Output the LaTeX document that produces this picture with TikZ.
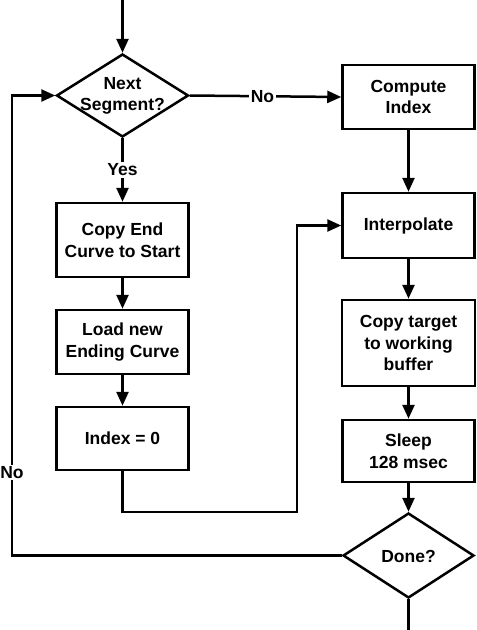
\documentclass[tikz,border=0pt]{standalone}
\usepackage{fontspec}
\setmainfont{Liberation Sans}
\usetikzlibrary{shapes.geometric,arrows.meta}
\begin{document}
\begin{tikzpicture}[x=1pt,y=-1pt,
  line width=2.5pt,
  every node/.style={font=\fontsize{17.5}{21.5}\selectfont\bfseries, align=center},
  box/.style={draw, rectangle, inner sep=0pt},
  dec/.style={draw, diamond, inner sep=0pt},
  txt/.style={inner sep=0pt},
  lbl/.style={fill=white, inner sep=1.5pt},
  arr/.style={-{Triangle[length=14pt,width=12pt]}}
]
\useasboundingbox (0,0) rectangle (477,630);
% left column
\node[dec, minimum width=132pt, minimum height=83pt] (next) at (122.5,95.5) {};
\node[txt] (nexttxt) at (122.5,96) {Next\\Segment?};
\node[box, minimum width=132pt, minimum height=74pt] (copyend) at (122.5,240) {Copy End\\Curve to Start};
\node[box, minimum width=132pt, minimum height=64pt] (load) at (122.5,342) {Load new\\Ending Curve};
\node[box, minimum width=132pt, minimum height=63pt] (index) at (122.5,438.5) {Index = 0};
% right column
\node[box, minimum width=132pt, minimum height=64pt] (compute) at (408.5,97) {Compute\\Index};
\node[box, minimum width=132pt, minimum height=65pt] (interp) at (408.5,225.5) {Interpolate};
\node[box, minimum width=133pt, minimum height=86pt] (copyt) at (408.5,343) {Copy target\\to working\\buffer};
\node[box, minimum width=132pt, minimum height=62pt] (sleep) at (408.5,451) {Sleep\\128 msec};
\node[dec, minimum width=131pt, minimum height=85pt] (done) at (408.5,555.5) {};
\node[txt] (donetxt) at (408.5,556) {Done?};
% coordinates
\coordinate (top) at (122.5,0);
\coordinate (bot) at (408.5,630);
\coordinate (i1) at (122.5,512);
\coordinate (i2) at (297,512);
\coordinate (i3) at (297,225.5);
\coordinate (l1) at (12,555.5);
\coordinate (l2) at (12,95.5);
% connectors
\draw[arr] (top) -- (next.north);
\draw[arr] (next.east) -- node[lbl, pos=0.48] (nolbl) {No} (compute.west);
\draw[arr] (next.south) -- node[lbl, pos=0.5] (yeslbl) {Yes} (copyend.north);
\draw[arr] (copyend) -- (load);
\draw[arr] (load) -- (index);
\draw[arr] (index.south) -- (i1) -- (i2) -- (i3) -- (interp.west);
\draw[arr] (compute) -- (interp);
\draw[arr] (interp) -- (copyt);
\draw[arr] (copyt) -- (sleep);
\draw[arr] (sleep) -- (done.north);
\draw (done.south) -- (bot);
\draw[arr] (done.west) -- (l1) -- node[lbl, pos=0.18, inner xsep=0pt] (nolbl2) {No} (l2) -- (next.west);
\end{tikzpicture}
\end{document}
